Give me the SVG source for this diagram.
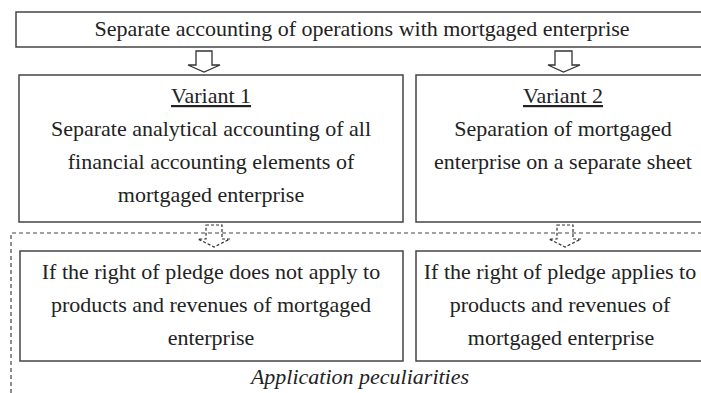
<svg xmlns="http://www.w3.org/2000/svg" width="701" height="393" viewBox="0 0 701 393">
<style>
.box{fill:#fff;stroke:#444;stroke-width:1.5}
.t{font-family:"Liberation Serif",Tinos,"Times New Roman","DejaVu Serif",serif;font-size:22px;fill:#222;text-anchor:middle}
.arr{fill:#fff;stroke:#333;stroke-width:1.3}
.darr{fill:none;stroke:#333;stroke-width:1.2;stroke-dasharray:3 2}
.frame{fill:none;stroke:#444;stroke-width:1.2;stroke-dasharray:4 3}
</style>
<rect width="701" height="393" fill="#fff"/>
<g id="frame"><path class="frame" d="M11,393 V233 H701"/></g>
<g id="top"><rect class="box" x="16" y="12" width="690" height="35"/>
<text class="t" x="362" y="36">Separate accounting of operations with mortgaged enterprise</text></g>
<g id="variant1"><rect class="box" x="19" y="75" width="384" height="147"/>
<text class="t" x="211" y="103" text-decoration="underline">Variant 1</text>
<text class="t" x="211" y="136">Separate analytical accounting of all</text>
<text class="t" x="211" y="169">financial accounting elements of</text>
<text class="t" x="211" y="202">mortgaged enterprise</text></g>
<g id="variant2"><rect class="box" x="416" y="75" width="290" height="147"/>
<text class="t" x="563" y="103" text-decoration="underline">Variant 2</text>
<text class="t" x="563" y="136">Separation of mortgaged</text>
<text class="t" x="563" y="169">enterprise on a separate sheet</text></g>
<g id="case1"><rect class="box" x="20" y="251" width="383" height="110"/>
<text class="t" x="211" y="279">If the right of pledge does not apply to</text>
<text class="t" x="211" y="312">products and revenues of mortgaged</text>
<text class="t" x="211" y="345">enterprise</text></g>
<g id="case2"><rect class="box" x="416" y="251" width="290" height="110"/>
<text class="t" x="560" y="279">If the right of pledge applies to</text>
<text class="t" x="560" y="312">products and revenues of</text>
<text class="t" x="561" y="345">mortgaged enterprise</text></g>
<g id="label"><text class="t" x="360" y="384" font-style="italic">Application peculiarities</text></g>
<g id="connectors">
<path class="arr" d="M196,51 H212 V65 H220 L204,72 L188,65 H196 Z"/>
<path class="arr" d="M555,51 H572 V65 H580 L563.5,72 L548,65 H555 Z"/>
<path class="darr" d="M206,225 H222 V239 H230 L214,247 L198,239 H206 Z"/>
<path class="darr" d="M557,225 H573 V239 H581 L565,247 L549,239 H557 Z"/>
</g>
</svg>
